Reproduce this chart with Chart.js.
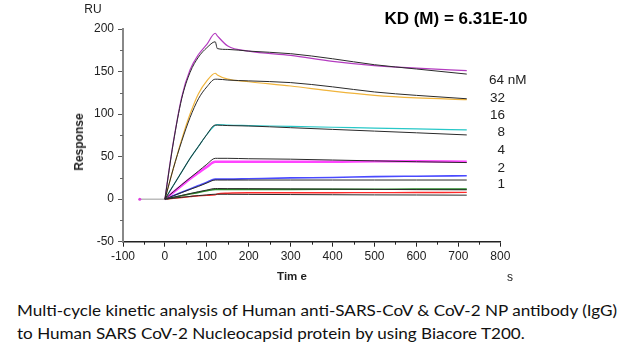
<!DOCTYPE html>
<html><head><meta charset="utf-8">
<script src="https://cdn.jsdelivr.net/npm/chart.js@4"></script>
<style>
html,body{margin:0;padding:0;background:#fff;}
body{width:634px;height:357px;position:relative;overflow:hidden;font-family:"Liberation Sans",Arial,sans-serif;color:#222;}
#wrap{position:absolute;left:0;top:0;width:634px;height:290px;}
.t{position:absolute;white-space:nowrap;transform:translate(-50%,-50%);line-height:1;}
.l{position:absolute;white-space:nowrap;transform:translate(0,-50%);line-height:1;}
.r{position:absolute;white-space:nowrap;transform:translate(-100%,-50%);line-height:1;}
.cap{position:absolute;left:16.5px;font-family:Lato,"Noto Sans",sans-serif;font-size:15px;line-height:15px;white-space:nowrap;transform-origin:0 0;color:#111;}
</style>
</head><body>
<div id="wrap"><canvas id="c" width="634" height="290"></canvas></div>
<div class="t" style="left:93px;top:9px;font-size:12px;">RU</div>
<div class="t" style="left:456px;top:18px;font-size:17px;font-weight:bold;color:#000;">KD (M) = 6.31E-10</div>
<div class="t" style="left:79px;top:142px;font-size:12px;font-weight:bold;transform:translate(-50%,-50%) rotate(-90deg);">Response</div>
<div class="t" style="left:292px;top:277px;font-size:11.5px;font-weight:bold;">Tim e</div>
<div class="t" style="left:510px;top:277px;font-size:12px;">s</div>
<div class="l" style="left:489px;top:80px;font-size:13.5px;">64 nM</div>
<div class="r" style="left:505px;top:98px;font-size:13.5px;">32</div>
<div class="r" style="left:505px;top:115px;font-size:13.5px;">16</div>
<div class="r" style="left:505px;top:132px;font-size:13.5px;">8</div>
<div class="r" style="left:505px;top:150px;font-size:13.5px;">4</div>
<div class="r" style="left:505px;top:167.5px;font-size:13.5px;">2</div>
<div class="r" style="left:505px;top:184px;font-size:13.5px;">1</div>
<div class="cap" id="cap1" style="top:303.4px;">Multi-cycle kinetic analysis of Human anti-SARS-CoV &amp; CoV-2 NP antibody (IgG)</div>
<div class="cap" id="cap2" style="top:326px;">to Human SARS CoV-2 Nucleocapsid protein by using Biacore T200.</div>
<script>
const timePoints = [0, 10, 20, 40, 60, 80, 100, 120, 125, 150, 200, 300, 400, 500, 600, 720];
const concLabels = ["64 nM", "32", "16", "8", "4", "2", "1"];
const measured64 = [0, 35, 67, 120, 152, 170, 182, 195, 192, 180, 174, 169, 162, 157, 154, 151];
const fit64      = [0, 34, 66, 118, 149, 167, 178, 185, 177, 176, 174, 171, 165, 158, 153, 147];
const measured32 = [0, 18, 36, 70, 100, 124, 139, 148, 146, 141, 138, 133, 127, 122, 119, 117];
const fit32      = [0, 18, 36, 68, 96, 118, 132, 141, 141, 140, 139, 137, 132, 126, 122, 118];
const measured16 = [0, 8, 16, 32, 48, 62, 76, 87, 87.5, 87, 86.5, 85.5, 84.5, 83.5, 82.5, 81.5];
const fit16      = [0, 8, 16, 32, 48, 62, 76, 87, 87, 86.5, 86, 84, 82, 80, 78, 75.5];
const measured8  = [0, 4, 8, 16, 24, 31, 38, 44, 44, 44, 44, 44, 44, 44.5, 44.5, 44];
const fit8       = [0, 4.3, 8.6, 17, 25, 33, 41, 48, 48, 48, 47.5, 47, 46, 45, 44, 43];
const measured4  = [0, 2, 4, 8, 12, 16, 20, 23.5, 23.5, 23.5, 24, 25, 25.5, 26.5, 27, 27.5];
const fit4       = [0, 2, 4, 7.8, 11.5, 15, 19, 22.5, 22.5, 22.5, 22.5, 22.5, 22.5, 22.5, 22.5, 22.5];
const measured2  = [0, 1, 2, 4, 6, 8, 9.8, 11.4, 11.4, 11.4, 11.5, 11.5, 11.6, 11.7, 11.8, 11.8];
const fit2       = [0, 1.1, 2.2, 4.4, 6.6, 8.7, 10.7, 12.5, 12.5, 12.4, 12.3, 12, 11.8, 11.5, 11.2, 11];
const measured1  = [0, 0.5, 1, 2, 3, 4, 4.5, 5, 6, 7, 7.5, 7.5, 7.6, 7.7, 7.8, 8];
const fit1       = [0, 0.6, 1.1, 2.2, 3.2, 4.2, 5, 5.8, 5.8, 5.7, 5.6, 5.4, 5.2, 5, 4.9, 4.7];
const baselineTimes = [-60, 0];
const baselineValues = [0, 0];
const xTickValues = [-100, 0, 100, 200, 300, 400, 500, 600, 700, 800];
const yTickValues = [-50, 0, 50, 100, 150, 200];

const measuredSets = [measured64, measured32, measured16, measured8, measured4, measured2, measured1];
const fitSets = [fit64, fit32, fit16, fit8, fit4, fit2, fit1];
const measuredColors = ['#b43cc0', '#f0b43c', '#28c8c8', '#ff44ff', '#4a4aff', '#2a8a2a', '#ff2a2a'];
const measuredWidths = [1.2, 1.2, 1.2, 2.6, 1.6, 1.6, 1.4];

function pts(xs, ys){ return xs.map((t,i)=>({x:t, y:ys[i]})); }

const datasets = [];
fitSets.forEach((f,i)=>{
  datasets.push({label:'fit '+concLabels[i], data:pts(timePoints,f), borderColor:'#2a2a2a', borderWidth:1, pointRadius:0, cubicInterpolationMode:'monotone', fill:false});
});
measuredSets.forEach((m,i)=>{
  datasets.push({label:concLabels[i], data:pts(timePoints,m), borderColor:measuredColors[i], borderWidth:measuredWidths[i], pointRadius:0, cubicInterpolationMode:'monotone', fill:false});
});
datasets.push({label:'baseline', data:pts(baselineTimes, baselineValues), borderColor:'#999', borderWidth:1, pointRadius:[1.5,0], pointBackgroundColor:'#e040e0', pointBorderWidth:0, fill:false});

const minorTicks = {
  id:'minorTicks',
  afterDraw(chart){
    const ctx = chart.ctx, xs = chart.scales.x, ys = chart.scales.y;
    ctx.save();
    ctx.lineWidth = 1;
    ctx.strokeStyle = '#666';
    for(let v=-25; v<200; v+=50){
      const p = Math.round(ys.getPixelForValue(v))+0.5;
      ctx.beginPath(); ctx.moveTo(chart.chartArea.left-3, p); ctx.lineTo(chart.chartArea.left, p); ctx.stroke();
    }
    ctx.strokeStyle = '#222';
    for(let v=-50; v<800; v+=100){
      const p = Math.round(xs.getPixelForValue(v))+0.5;
      ctx.beginPath(); ctx.moveTo(p, chart.chartArea.bottom); ctx.lineTo(p, chart.chartArea.bottom+3); ctx.stroke();
    }
    ctx.restore();
  }
};

new Chart(document.getElementById('c'), {
  type:'line',
  data:{datasets},
  options:{
    responsive:false, animation:false, devicePixelRatio:1,
    layout:{padding:{left:0, top:29, right:133.7, bottom:0}},
    plugins:{legend:{display:false}, tooltip:{enabled:false}},
    scales:{
      x:{type:'linear', min:-100, max:800,
        afterBuildTicks:(s)=>{ s.ticks = xTickValues.map(v=>({value:v})); },
        ticks:{font:{family:'"Liberation Sans", Arial, sans-serif', size:12}, color:'#222', padding:3, maxRotation:0},
        grid:{drawOnChartArea:false, drawTicks:true, tickLength:5, color:'#222', lineWidth:1},
        border:{color:'#222', width:1.5},
        afterFit:(s)=>{ s.height = 48.3; }
      },
      y:{type:'linear', min:-50, max:200,
        afterBuildTicks:(s)=>{ s.ticks = yTickValues.map(v=>({value:v})); },
        ticks:{font:{family:'"Liberation Sans", Arial, sans-serif', size:12}, color:'#222', padding:4},
        grid:{drawOnChartArea:false, drawTicks:true, tickLength:5, color:'#555', lineWidth:1},
        border:{color:'#888', width:2},
        afterFit:(s)=>{ s.width = 123; }
      }
    }
  },
  plugins:[minorTicks]
});

(function(){
  const c1 = document.getElementById('cap1'), c2 = document.getElementById('cap2');
  const w = c1.getBoundingClientRect().width;
  const sc = 600 / w;
  c1.style.transform = 'scaleX('+sc+')';
  c2.style.transform = 'scaleX('+sc+')';
})();
</script>
</body></html>
